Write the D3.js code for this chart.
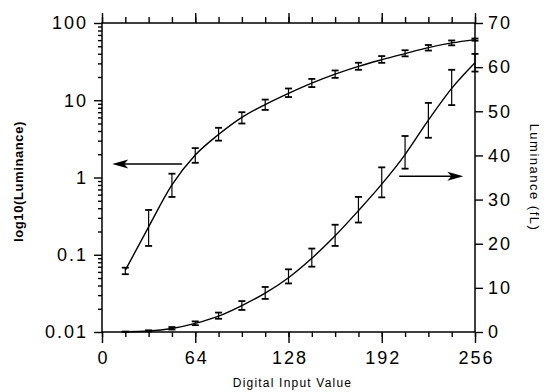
<!DOCTYPE html>
<html>
<head>
<meta charset="utf-8">
<script src="https://cdn.jsdelivr.net/npm/d3@7"></script>
<style>
  body { margin: 0; background: #fff; }
  svg { display: block; }
  .tick text { font-family: "Liberation Sans", Arial, sans-serif; }
</style>
</head>
<body>
<svg id="chart" width="544" height="392"></svg>
<script>
// digital input values (x) and measured luminance with error bars
var inputVals = [16, 32, 48, 64, 80, 96, 112, 128, 144, 160, 176, 192, 208, 224, 240, 256];
var lum   = [0.063, 0.23, 0.8, 1.95, 3.6, 6.0, 8.8, 12.3, 16.7, 21.8, 27.5, 33.5, 40.2, 48.0, 55.2, 61.0];
var lumLo = [0.056, 0.13, 0.56, 1.55, 3.0, 5.0, 7.5, 11.0, 14.8, 19.5, 24.8, 30.5, 37.0, 44.0, 51.4, 59.0];
var lumHi = [0.068, 0.38, 1.12, 2.4, 4.4, 7.0, 10.2, 14.2, 18.9, 24.3, 30.6, 37.3, 44.4, 51.9, 59.4, 63.0];

var xTicks = [0, 64, 128, 192, 256];
var xMinor = d3.range(0, 257, 16);
var logTicks = [0.01, 0.1, 1, 10, 100];
var linTicks = [0, 10, 20, 30, 40, 50, 60, 70];

// arrows pointing to the axis each curve belongs to: [xFrom, xTo, yValue]
var leftArrow = [55, 7, 1.5];
var rightArrow = [204, 248, 35.3];

var svg = d3.select("#chart");
var W = +svg.attr("width"), H = +svg.attr("height");
var L = 102, R = 475, T = 23, B = 332;

var x = d3.scaleLinear().domain([0, 256]).range([L, R]);
var yLog = d3.scaleLog().domain([0.01, 100]).range([B, T]);
var yLin = d3.scaleLinear().domain([0, 70]).range([B, T]);

svg.append("rect").attr("width", W).attr("height", H).attr("fill", "#fff");

var logMinor = [];
[0.01, 0.1, 1, 10].forEach(function(d) {
  for (var k = 2; k <= 9; k++) logMinor.push(d * k);
});

function styleAxis(g) {
  g.select(".domain").remove();
  g.selectAll("line").attr("stroke", "#000").attr("stroke-width", 1.4);
  g.selectAll("text")
    .attr("fill", "#000")
    .style("font-size", "18px")
    .style("letter-spacing", "2px");
}

// bottom axis
svg.append("g").attr("transform", "translate(0," + B + ")")
  .call(d3.axisBottom(x).tickValues(xMinor).tickSize(5).tickFormat(""))
  .call(styleAxis);
svg.append("g").attr("transform", "translate(0," + B + ")")
  .call(d3.axisBottom(x).tickValues(xTicks).tickSize(11).tickPadding(8).tickFormat(d3.format("d")))
  .call(styleAxis)
  .selectAll("text").attr("dx", "1px");

// top axis
svg.append("g").attr("transform", "translate(0," + T + ")")
  .call(d3.axisTop(x).tickValues(xMinor).tickSize(6).tickFormat(""))
  .call(styleAxis);
svg.append("g").attr("transform", "translate(0," + T + ")")
  .call(d3.axisTop(x).tickValues(xTicks).tickSize(10).tickFormat(""))
  .call(styleAxis);

// left log axis
svg.append("g").attr("transform", "translate(" + L + ",0)")
  .call(d3.axisLeft(yLog).tickValues(logMinor).tickSize(4).tickFormat(""))
  .call(styleAxis);
svg.append("g").attr("transform", "translate(" + L + ",0)")
  .call(d3.axisLeft(yLog).tickValues(logTicks).tickSize(8).tickPadding(6)
    .tickFormat(function(d) { return String(d); }))
  .call(styleAxis);

// right linear axis
svg.append("g").attr("transform", "translate(" + R + ",0)")
  .call(d3.axisRight(yLin).tickValues(linTicks).tickSize(8).tickPadding(5).tickFormat(d3.format("d")))
  .call(styleAxis);

// frame
svg.append("rect")
  .attr("x", L).attr("y", T).attr("width", R - L).attr("height", B - T)
  .attr("fill", "none").attr("stroke", "#000").attr("stroke-width", 1.5);

var pts = inputVals.map(function(v, i) {
  return { x: v, y: lum[i], lo: lumLo[i], hi: lumHi[i] };
});

function drawSeries(yScale) {
  var line = d3.line()
    .x(function(d) { return x(d.x); })
    .y(function(d) { return yScale(d.y); })
    .curve(d3.curveMonotoneX);

  svg.append("path").datum(pts)
    .attr("d", line)
    .attr("fill", "none").attr("stroke", "#000").attr("stroke-width", 1.4);

  var eb = svg.append("g").attr("stroke", "#000");
  var bars = eb.selectAll("g").data(pts).enter().append("g");
  bars.append("line")
    .attr("x1", function(d) { return x(d.x); }).attr("x2", function(d) { return x(d.x); })
    .attr("y1", function(d) { return yScale(d.lo); }).attr("y2", function(d) { return yScale(d.hi); })
    .attr("stroke-width", 1.2);
  ["lo", "hi"].forEach(function(k) {
    bars.append("line")
      .attr("x1", function(d) { return x(d.x) - 3.5; }).attr("x2", function(d) { return x(d.x) + 3.5; })
      .attr("y1", function(d) { return yScale(d[k]); }).attr("y2", function(d) { return yScale(d[k]); })
      .attr("stroke-width", 1.8);
  });
}

drawSeries(yLog);
drawSeries(yLin);

// arrows
function arrow(a, yScale) {
  var x0 = x(a[0]), x1 = x(a[1]), yy = yScale(a[2]);
  var dir = x1 > x0 ? 1 : -1;
  svg.append("line")
    .attr("x1", x0).attr("x2", x1 - dir * 8).attr("y1", yy).attr("y2", yy)
    .attr("stroke", "#000").attr("stroke-width", 1.5);
  svg.append("path")
    .attr("d", "M" + x1 + "," + yy + "L" + (x1 - dir * 16) + "," + (yy - 4.5) +
      "L" + (x1 - dir * 12) + "," + yy + "L" + (x1 - dir * 16) + "," + (yy + 4.5) + "Z")
    .attr("fill", "#000");
}
arrow(leftArrow, yLog);
arrow(rightArrow, yLin);

// axis titles
svg.append("text")
  .attr("transform", "translate(23," + ((T + B) / 2 + 4) + ") rotate(-90)")
  .attr("text-anchor", "middle")
  .style("font-family", "Liberation Sans, Arial, sans-serif")
  .style("font-size", "13px").style("font-weight", "bold")
  .style("letter-spacing", "0.6px")
  .text("log10(Luminance)");

svg.append("text")
  .attr("transform", "translate(530," + ((T + B) / 2) + ") rotate(90)")
  .attr("text-anchor", "middle")
  .style("font-family", "Liberation Sans, Arial, sans-serif")
  .style("font-size", "13px")
  .style("letter-spacing", "1.5px")
  .text("Luminance (fL)");

svg.append("text")
  .attr("x", (L + R) / 2 + 4).attr("y", 387)
  .attr("text-anchor", "middle")
  .style("font-family", "Liberation Sans, Arial, sans-serif")
  .style("font-size", "12px")
  .style("letter-spacing", "1.2px")
  .text("Digital Input Value");
</script>
</body>
</html>
